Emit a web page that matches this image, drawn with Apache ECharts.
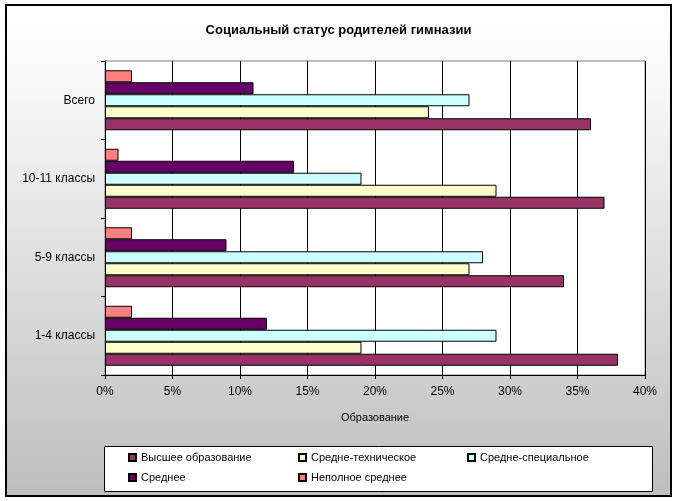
<!DOCTYPE html>
<html><head><meta charset="utf-8">
<script src="https://cdn.jsdelivr.net/npm/echarts@6/dist/echarts.min.js"></script>
<style>html,body{margin:0;padding:0;background:#fff}#c{width:677px;height:501px}</style>
</head><body><div id="c"></div>
<script>
var categories = ['1-4 классы', '5-9 классы', '10-11 классы', 'Всего'];
var seriesNames = ['Высшее образование', 'Средне-техническое', 'Средне-специальное', 'Среднее', 'Неполное среднее'];
var vysshee = [38, 34, 37, 36];
var srTech = [19, 27, 29, 24];
var srSpec = [29, 28, 19, 27];
var srednee = [12, 9, 14, 11];
var nepolnoe = [2, 2, 1, 2];
var xTicks = [0, 5, 10, 15, 20, 25, 30, 35, 40];
var colors = ['#993366', '#FFFFCC', '#CCFFFF', '#660066', '#FF8080'];
var values = [vysshee, srTech, srSpec, srednee, nepolnoe];

var font = 'Liberation Sans, Arial, sans-serif';
var chart = echarts.init(document.getElementById('c'), null, {renderer: 'canvas'});

var legendPos = [[128, 452], [298, 452], [467, 452], [128, 472], [298, 472]];
var legends = seriesNames.map(function (n, i) {
  return {
    data: [n], left: legendPos[i][0], top: legendPos[i][1], padding: 0,
    icon: 'rect', itemWidth: 7, itemHeight: 7, itemGap: 4,
    textStyle: {fontFamily: font, fontSize: 11, color: '#000'},
    selectedMode: false
  };
});

var order = [4, 3, 2, 1, 0];
var option = {
  animation: false,
  backgroundColor: '#fff',
  textStyle: {fontFamily: font},
  title: {
    text: 'Социальный статус родителей гимназии',
    left: 'center', top: 19,
    textStyle: {fontFamily: font, fontSize: 13, fontWeight: 'bold', color: '#000'}
  },
  graphic: [
    {type: 'rect', z: -10, shape: {x: 6, y: 5, width: 665, height: 491},
     style: {fill: new echarts.graphic.LinearGradient(0, 0, 0, 1, [
       {offset: 0, color: '#ffffff'}, {offset: 0.12, color: '#fbfbfb'}, {offset: 1, color: '#bebebe'}]),
       stroke: '#000', lineWidth: 2}},
    {type: 'rect', z: -5, shape: {x: 104.5, y: 446.5, width: 548, height: 45},
     style: {fill: '#fff', stroke: '#000', lineWidth: 1}}
  ],
  legend: legends,
  grid: {left: 105, top: 61, right: 32, bottom: 126, show: true, backgroundColor: '#fff', borderColor: '#808080', borderWidth: 1},
  xAxis: {
    type: 'value', min: 0, max: 40, interval: 5,
    name: 'Образование', nameLocation: 'middle', nameGap: 37,
    nameTextStyle: {fontFamily: font, fontSize: 11, color: '#000'},
    axisLine: {show: true, lineStyle: {color: '#000'}},
    axisTick: {show: true, length: 4, lineStyle: {color: '#000'}},
    axisLabel: {formatter: function (v) { return v + '%'; }, fontFamily: font, fontSize: 12, color: '#000', margin: 11},
    splitLine: {show: true, lineStyle: {color: '#000', width: 1}}
  },
  yAxis: {
    type: 'category', data: categories,
    axisLine: {show: true, lineStyle: {color: '#000'}},
    axisTick: {show: true, length: 4, lineStyle: {color: '#000'}},
    axisLabel: {fontFamily: font, fontSize: 12, color: '#000', margin: 10}
  },
  series: order.map(function (i) {
    return {
      name: seriesNames[i], type: 'bar', data: values[i], barWidth: 12, barGap: '0%',
      itemStyle: {color: colors[i], borderColor: '#000', borderWidth: 1}
    };
  })
};
chart.setOption(option);
</script></body></html>
